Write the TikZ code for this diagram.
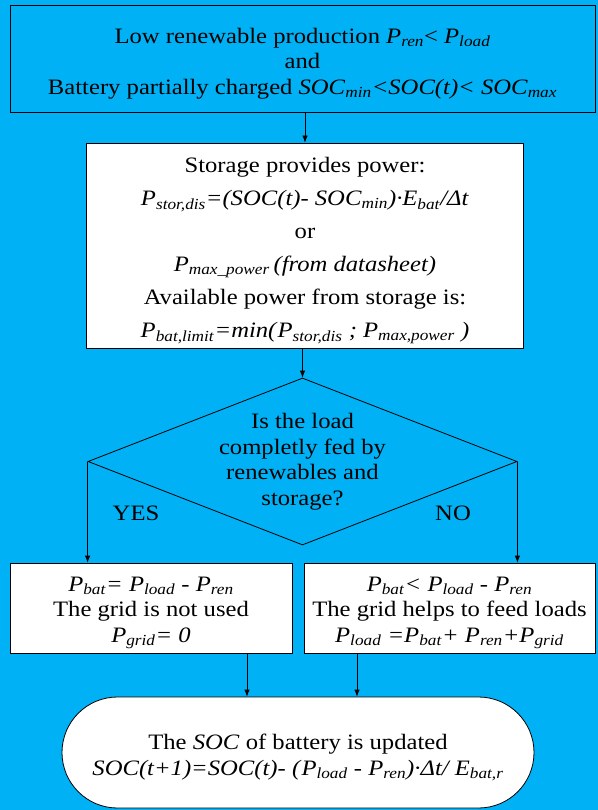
\documentclass[tikz,border=0pt]{standalone}
\usepackage{fontspec}
\setmainfont{Liberation Serif}[FakeStretch=1.12]
\usetikzlibrary{shapes.geometric,shapes.misc,arrows.meta}
\definecolor{skyblue}{RGB}{0,178,245}
\newcommand{\Pw}[1]{\textit{P}\textsubscript{\textit{#1}}}
\newcommand{\Soc}[1]{\textit{SOC}\textsubscript{\textit{#1}}}

\begin{document}
\begin{tikzpicture}[x=1bp,y=-1bp,
		every node/.style={font=\fontsize{22bp}{25.5bp}\selectfont},
		box/.style={draw, line width=0.8bp, inner sep=0pt},
		txt/.style={align=center, inner sep=0pt, yshift=-5bp},
		decision/.style={draw, line width=0.8bp, diamond, minimum width=429bp, minimum height=167bp, inner sep=0pt},
		terminal/.style={draw, line width=0.8bp, fill=white, rounded rectangle, minimum width=472bp, minimum height=111bp, inner sep=0pt},
		arr/.style={-{Latex[length=7bp,width=5.5bp]}, line width=0.8bp}]
	\fill[skyblue] (0,0) rectangle (598,810);
	\useasboundingbox (0,0) rectangle (598,810);

	\node[box, minimum width=585bp, minimum height=107bp] (cond) at (302.5,58.5) {};
	\node[txt] (condtext) at (cond.center)
		{Low renewable production \Pw{ren}< \Pw{load}\\
		 and\\
		 Battery partially charged \Soc{min}\textit{<SOC(t)< }\Soc{max}};
	\node[box, fill=white, minimum width=437bp, minimum height=205bp] (stor) at (305,245.5) {};
	\node[txt] (stortext) at (stor.center)
		{Storage provides power:\\[7.5bp]
		 \Pw{stor,dis}\textit{=(SOC(t)- }\Soc{min}\textit{)·E}\textsubscript{\textit{bat}}\textit{/Δt}\\[7.5bp]
		 or\\[7.5bp]
		 \Pw{max\_power}\,\textit{(from datasheet)}\\[7.5bp]
		 Available power from storage is:\\[7.5bp]
		 \Pw{bat,limit}\textit{=min(}\Pw{stor,dis}\textit{ ; }\Pw{max,power}\textit{ )}};
	\node[decision] (dec) at (302.5,461.5) {};
	\node[align=center] (ask) at (dec.center) {Is the load\\completly fed by\\renewables and\\storage?};
	\node (yes) at (136,513) {YES};
	\node (no) at (453,513) {NO};
	\node[box, fill=white, minimum width=282bp, minimum height=90bp] (lbox) at (151,608) {};
	\node[txt] (lboxtext) at (lbox.center)
		{\Pw{bat}\textit{= }\Pw{load}\textit{ - }\Pw{ren}\\
		 The grid is not used\\
		 \Pw{grid}\textit{= 0}};
	\node[box, fill=white, minimum width=291bp, minimum height=90bp] (rbox) at (449.5,608) {};
	\node[txt] (rboxtext) at (rbox.center)
		{\Pw{bat}\textit{< }\Pw{load}\textit{ - }\Pw{ren}\\
		 The grid helps to feed loads\\
		 \Pw{load}\textit{ =}\Pw{bat}\textit{+ }\Pw{ren}\textit{+}\Pw{grid}};
	\node[terminal] (soc) at (298,752.5) {};
	\node[txt] (soctext) at (soc.center)
		{The \textit{SOC} of battery is updated\\
		 \textit{SOC(t+1)=SOC(t)- (}\Pw{load}\textit{ - }\Pw{ren}\textit{)·Δt/ E}\textsubscript{\textit{bat,r}}};

	\draw[arr] (stor.north |- cond.south) -- (stor.north);
	\draw[arr] (dec.north |- stor.south) -- (dec.north);
	\draw[arr] (dec.west) -- (dec.west |- lbox.north);
	\draw[arr] (dec.east) -- (dec.east |- rbox.north);
	\draw[arr] ([xshift=96bp]lbox.south) -- ([xshift=96bp]lbox.south |- soc.north);
	\draw[arr] ([xshift=-92.5bp]rbox.south) -- ([xshift=-92.5bp]rbox.south |- soc.north);
\end{tikzpicture}
\end{document}
